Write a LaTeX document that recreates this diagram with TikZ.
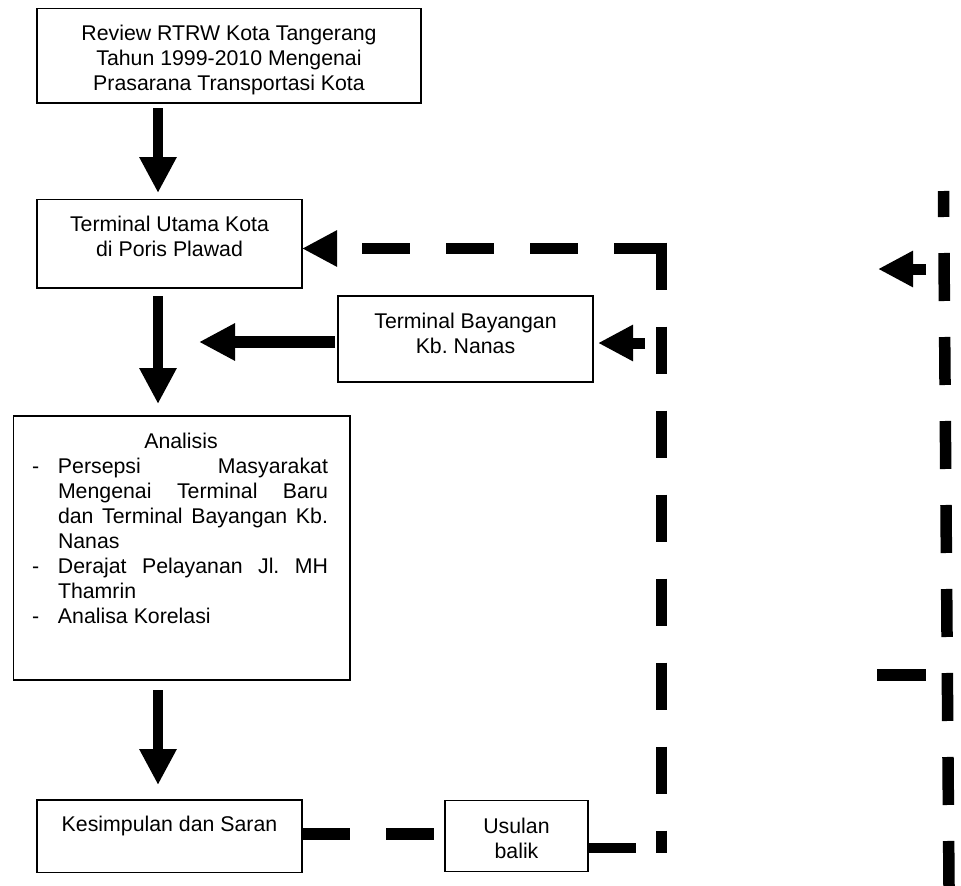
\documentclass[tikz,border=0pt]{standalone}
\usepackage{fontspec}
\setmainfont{Liberation Sans}
\usetikzlibrary{arrows.meta}
\newcommand\bxfont{\fontsize{21.3pt}{25pt}\selectfont\frenchspacing}
\begin{document}
\frenchspacing
\begin{tikzpicture}[x=1pt,y=-1pt,
  box/.style={draw, line width=1.3pt, rectangle, inner sep=0pt, outer sep=0pt},
  txt/.style={inner sep=0pt, outer sep=0pt, anchor=base, font=\bxfont},
  blk/.style={line width=10.5pt, -{Triangle[length=36pt,width=35pt]}},
  dsh/.style={line width=11.5pt, dash pattern=on 47.5pt off 36.5pt},
  tipb/.style={-{Triangle[length=35pt,width=34pt]}}
]
\useasboundingbox (0,0) rectangle (961,886);

% boxes
\node[box, minimum width=384pt, minimum height=94.7pt] (b1) at (229,55.65) {};
\node[box, minimum width=265pt, minimum height=88.5pt] (b2) at (169.5,243.75) {};
\node[box, minimum width=255pt, minimum height=86pt] (b3) at (465.5,339) {};
\node[box, minimum width=336.7pt, minimum height=264pt] (b4) at (181.65,548) {};
\node[box, minimum width=265pt, minimum height=72.5pt] (b5) at (169.5,836.25) {};
\node[box, minimum width=143pt, minimum height=71pt] (b6) at (516.5,836.2) {};

% texts
\node[txt] (t1) at ([yshift=-32pt]b1.north) {\parbox[t]{380pt}{\centering Review RTRW Kota Tangerang\\Tahun 1999-2010 Mengenai\\Prasarana Transportasi Kota}};
\node[txt] (t2) at ([yshift=-32pt]b2.north) {\parbox[t]{260pt}{\centering Terminal Utama Kota\\di Poris Plawad}};
\node[txt] (t3) at ([yshift=-32pt]b3.north) {\parbox[t]{250pt}{\centering Terminal Bayangan\\Kb. Nanas}};
\node[txt, anchor=base west] (t4) at (32,448.4) {\parbox[t]{296pt}{%
\makebox[296pt][c]{\hspace{2pt}Analisis}\\
\makebox[26pt][l]{-}\makebox[270pt][s]{Persepsi Masyarakat}\\
\hspace*{26pt}\makebox[270pt][s]{Mengenai Terminal Baru}\\
\hspace*{26pt}\makebox[270pt][s]{dan Terminal Bayangan Kb.}\\
\hspace*{26pt}Nanas\\
\makebox[26pt][l]{-}\makebox[270pt][s]{Derajat Pelayanan Jl. MH}\\
\hspace*{26pt}Thamrin\\
\makebox[26pt][l]{-}Analisa Korelasi}};
\node[txt] (t5) at ([yshift=-31.4pt]b5.north) {Kesimpulan dan Saran};
\node[txt] (t6) at ([yshift=-32.7pt]b6.north) {\parbox[t]{140pt}{\centering Usulan\\balik}};

% helper coordinates
\coordinate (ax) at (158,0);
\coordinate (ay) at (0,342);
\coordinate (atip) at (199,342);
\coordinate (ky) at (0,834);
\coordinate (ctop) at (661.5,242.5);
\coordinate (corner) at (661.5,248.5);
\coordinate (cbot) at (661.5,853);
\coordinate (ubot) at (661.5,848);
\coordinate (sa) at (645,343);
\coordinate (r1) at (943.5,191);
\coordinate (r2) at (949,886);
\coordinate (ra1) at (926,269);
\coordinate (ra2) at (878,269);
\coordinate (rd1) at (877,675);
\coordinate (rd2) at (926,675);

% main flow arrows
\draw[blk, shorten <=5pt, shorten >=6.5pt] (b1.south -| ax) -- (b2.north -| ax);
\draw[blk, shorten <=8pt, shorten >=12pt] (b2.south -| ax) -- (b4.north -| ax);
\draw[blk, shorten <=10pt, shorten >=15pt] (b4.south -| ax) -- (b5.north -| ax);
\draw[blk, line width=12pt, shorten <=3pt] (b3.west |- ay) -- (atip);

% dashed links
\draw[dsh] (b5.east |- ky) -- (b6.west |- ky);
\draw[dsh, line width=10.6pt] (b6.east |- ubot) -- (ubot);
\draw[dsh] (ctop) -- (cbot);
\draw[dsh, tipb] (corner) -- (corner -| b2.east);
\draw[line width=11pt, tipb, shorten >=5pt] (sa) -- (sa -| b3.east);

% right side fragments
\draw[line width=11.5pt, dash pattern=on 48pt off 36pt, dash phase=22pt] (r1) -- (r2);
\draw[line width=11pt, tipb] (ra1) -- (ra2);
\draw[line width=12pt] (rd1) -- (rd2);
\end{tikzpicture}
\end{document}
